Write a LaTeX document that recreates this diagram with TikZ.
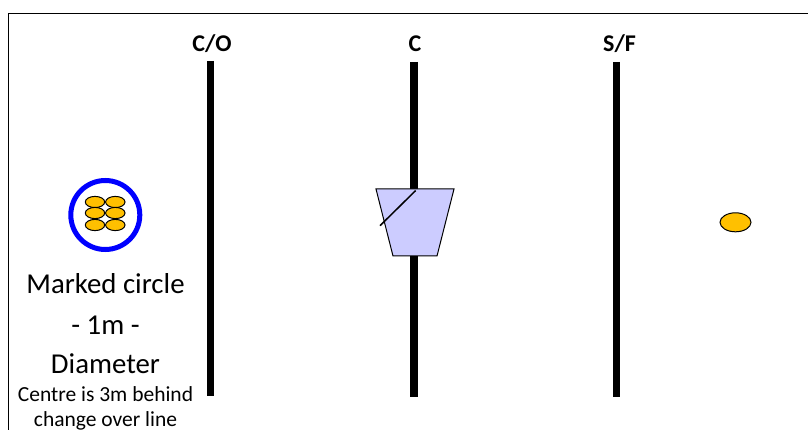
\documentclass[tikz,border=0pt]{standalone}
\usepackage{fontspec}
\setmainfont{Carlito}
\begin{document}
\begin{tikzpicture}[x=1pt,y=-1pt,
  bar/.style={line width=7.5pt},
  token/.style={draw=black,line width=1pt,fill=tokenfill},
  head/.style={font=\fontsize{24}{28}\selectfont\bfseries,inner sep=0pt,anchor=base},
  bigtxt/.style={font=\fontsize{28.8}{34}\selectfont,inner sep=0pt,anchor=base},
  smalltxt/.style={font=\fontsize{21.5}{25}\selectfont,inner sep=0pt,anchor=base}]
\definecolor{tokenfill}{HTML}{FFC000}
\definecolor{conefill}{HTML}{CCCCFF}
\useasboundingbox (0,0) rectangle (808,430);
\fill[white] (0,0) rectangle (808,430);
\draw[line width=1.5pt] (8.3,434) -- (8.3,13.3) -- (812,13.3);
% lines
\coordinate (co1) at (210.5,61); \coordinate (co2) at (210.5,396);
\coordinate (c1) at (414,62); \coordinate (c2) at (414,397);
\coordinate (sf1) at (616.7,62); \coordinate (sf2) at (616.7,397);
\draw[bar] (co1) -- (co2);
\draw[bar] (c1) -- (c2);
\draw[bar] (sf1) -- (sf2);
\node[head] (lco) at (212,52) {C/O};
\node[head] (lc) at (415,52) {C};
\node[head] (lsf) at (619.5,52) {S/F};
% cone
\draw[fill=conefill,line width=1pt] (376,189) -- (454,189) -- (437,256) -- (393,256) -- cycle;
\coordinate (d1) at (415.7,190.5); \coordinate (d2) at (380,225.7);
\draw[line width=1.5pt] (d1) -- (d2);
% marked circle
\draw[blue,line width=5pt] (105.3,215) circle (34.5);
\foreach \cx in {95,115.3}{
  \foreach \cy in {202,213,225}{
    \draw[token] (\cx,\cy) ellipse (9.7 and 5.6);
  }
}
% single token
\draw[token] (735.5,222.3) ellipse (15.5 and 9.5);
% texts
\node[bigtxt] (t1) at (105.5,293) {Marked circle};
\node[bigtxt] (t2) at (105.5,334) {- 1m -};
\node[bigtxt] (t3) at (105.5,373) {Diameter};
\node[smalltxt] (t4) at (105.5,401.5) {Centre is 3m behind};
\node[smalltxt] (t5) at (105.5,426.5) {change over line};
\end{tikzpicture}
\end{document}
